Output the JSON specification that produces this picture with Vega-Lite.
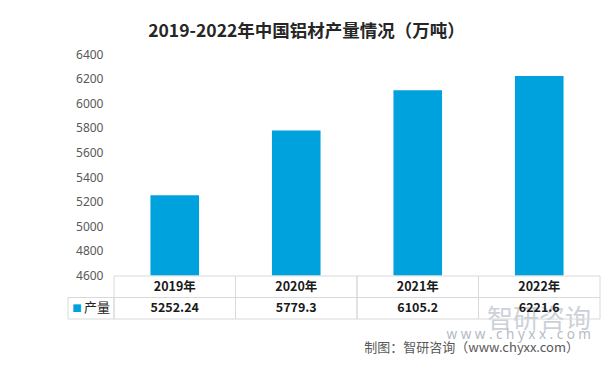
{
  "$schema": "https://vega.github.io/schema/vega-lite/v6.json",
  "padding": {"left": 67, "top": 22, "right": 8, "bottom": 8},
  "background": "white",
  "data": {"values": [
    {"year": "2019年", "产量": 5252.24},
    {"year": "2020年", "产量": 5779.3},
    {"year": "2021年", "产量": 6105.2},
    {"year": "2022年", "产量": 6221.6}
  ]},
  "title": {
    "text": "2019-2022年中国铝材产量情况（万吨）",
    "font": "Noto Sans CJK SC",
    "fontSize": 17.5,
    "fontWeight": "bold",
    "color": "#262626",
    "anchor": "middle",
    "frame": "bounds",
    "dx": -27.5,
    "offset": 8
  },
  "spacing": 0,
  "bounds": "flush",
  "columns": 2,
  "concat": [
    {
      "width": 46,
      "height": 221.5,
      "data": {"values": [{"a": 0}]},
      "mark": {"type": "point", "opacity": 0},
      "encoding": {}
    },
    {
      "width": 486,
      "height": 221.5,
      "mark": {"type": "bar", "color": "#00A2DE", "clip": true},
      "encoding": {
        "x": {
          "field": "year",
          "type": "nominal",
          "sort": null,
          "scale": {"paddingInner": 0.6, "paddingOuter": 0.3},
          "axis": null
        },
        "y": {
          "field": "产量",
          "type": "quantitative",
          "scale": {"domain": [4600, 6400], "nice": false, "zero": false},
          "axis": {
            "title": null,
            "values": [4600, 4800, 5000, 5200, 5400, 5600, 5800, 6000, 6200, 6400],
            "format": "d",
            "grid": false,
            "domain": false,
            "ticks": false,
            "tickSize": 0,
            "labelPadding": 11,
            "labelFont": "Noto Sans",
            "labelFontSize": 12,
            "labelColor": "#595959"
          }
        }
      }
    },
    {
      "width": 46,
      "height": 43,
      "data": {"values": [{"series": "产量"}]},
      "title": {
        "text": "智研咨询",
        "subtitle": "w w w . c h y x x . c o m",
        "orient": "bottom",
        "anchor": "end",
        "frame": "group",
        "font": "Noto Sans CJK SC",
        "fontSize": 26,
        "fontWeight": "normal",
        "color": "rgba(190,197,206,0.8)",
        "subtitleFont": "Noto Sans",
        "subtitleFontSize": 13.5,
        "subtitleColor": "#b4bbc4",
        "subtitlePadding": -5,
        "offset": -13,
        "dx": 477
      },
      "layer": [
        {
          "mark": {"type": "rect", "filled": false, "stroke": "#d9d9d9", "strokeWidth": 1},
          "encoding": {
            "y": {"datum": "产量", "type": "nominal", "scale": {"domain": ["年份", "产量"], "paddingInner": 0, "paddingOuter": 0}, "axis": null}
          }
        },
        {
          "mark": {"type": "text", "text": "■", "color": "#00A2DE", "font": "DejaVu Sans", "fontSize": 10, "dx": -14},
          "encoding": {
            "y": {"datum": "产量", "type": "nominal"}
          }
        },
        {
          "mark": {"type": "text", "color": "#262626", "font": "Noto Sans CJK SC", "fontSize": 13, "dx": 6},
          "encoding": {
            "y": {"datum": "产量", "type": "nominal"},
            "text": {"field": "series"}
          }
        }
      ]
    },
    {
      "width": 486,
      "height": 43,
      "title": {
        "text": "制图：智研咨询（www.chyxx.com）",
        "orient": "bottom",
        "anchor": "end",
        "frame": "group",
        "font": "Noto Sans CJK SC",
        "fontSize": 13,
        "fontWeight": "normal",
        "color": "#595959",
        "offset": 22,
        "dx": -21
      },
      "encoding": {
        "x": {"field": "year", "type": "nominal", "sort": null, "scale": {"paddingInner": 0, "paddingOuter": 0}, "axis": null}
      },
      "layer": [
        {
          "mark": {"type": "rect", "filled": false, "stroke": "#d9d9d9", "strokeWidth": 1},
          "encoding": {
            "y": {"datum": "年份", "type": "nominal", "scale": {"domain": ["年份", "产量"], "paddingInner": 0, "paddingOuter": 0}, "axis": null}
          }
        },
        {
          "mark": {"type": "rect", "filled": false, "stroke": "#d9d9d9", "strokeWidth": 1},
          "encoding": {
            "y": {"datum": "产量", "type": "nominal"}
          }
        },
        {
          "mark": {"type": "text", "color": "#1a1a1a", "font": "Noto Sans CJK SC", "fontWeight": "bold", "fontSize": 12.5},
          "encoding": {
            "y": {"datum": "年份", "type": "nominal"},
            "text": {"field": "year"}
          }
        },
        {
          "mark": {"type": "text", "color": "#1a1a1a", "font": "Noto Sans CJK SC", "fontWeight": "bold", "fontSize": 12.5},
          "encoding": {
            "y": {"datum": "产量", "type": "nominal"},
            "text": {"field": "产量", "type": "quantitative"}
          }
        }
      ]
    }
  ],
  "config": {"view": {"stroke": null}}
}
